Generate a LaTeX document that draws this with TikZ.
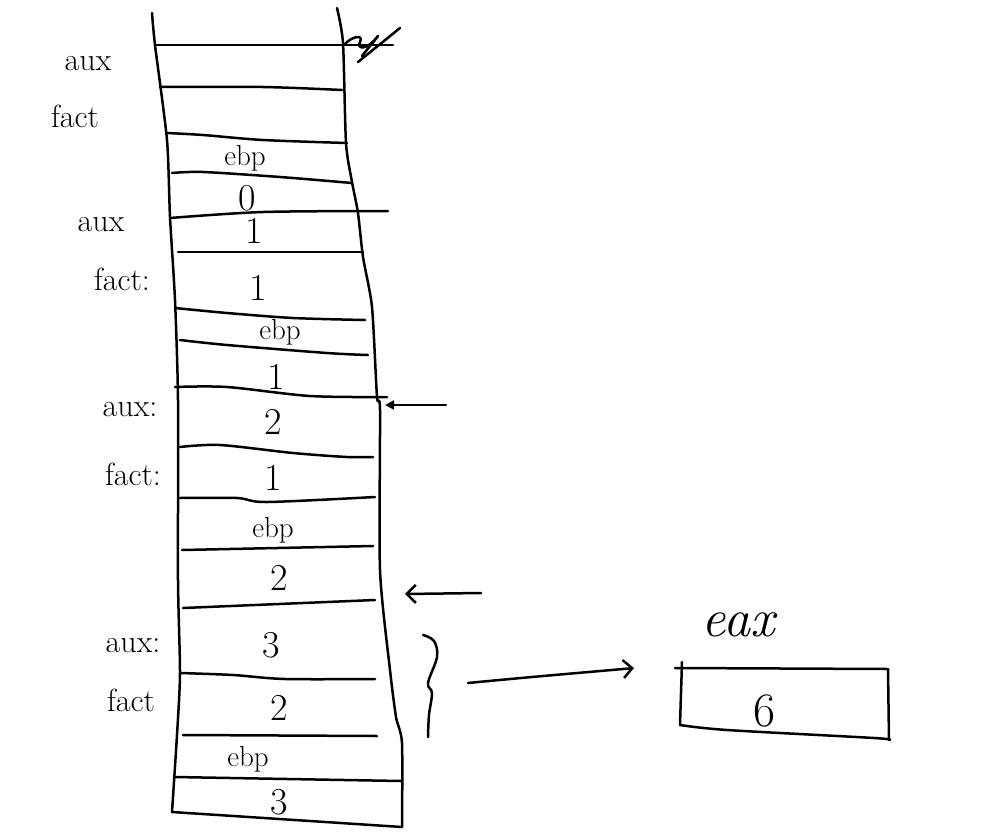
\documentclass[tikz,border=0pt]{standalone}
\usetikzlibrary{arrows.meta}
\begin{document}
\begin{tikzpicture}[x=1pt,y=-1pt,
  ink/.style={line width=2.5pt,line cap=round,line join=round},
  lbl/.style={font=\fontsize{32}{34}\selectfont,inner sep=0pt},
  reg/.style={font=\fontsize{29}{31}\selectfont,inner sep=0pt},
  val/.style={font=\fontsize{38}{40}\selectfont,inner sep=0pt},
  big/.style={font=\fontsize{54}{56}\selectfont\itshape,inner sep=0pt}]
\useasboundingbox[fill=white] (0,0) rectangle (989,836);
% stack outline
\draw[ink] plot[smooth,tension=0.4] coordinates {(152,13) (155,45) (167,140) (170,217) (175,300) (178,400) (178,580) (180,673) (177,735) (172,812)};
\draw[ink] plot[smooth,tension=0.4] coordinates {(337,8) (343,43) (346,143) (352,182) (358,213) (363,257) (372,307) (377,397) (380,410) (380,570) (390,670) (396,717) (402,743) (402,827)};
\draw[ink] (172,812) -- (402,827);
% horizontal cell lines
\draw[ink] (155,45) -- (393,45);
\draw[ink] plot[smooth,tension=0.5] coordinates {(160,87) (263,87) (342,90)};
\draw[ink] plot[smooth,tension=0.5] coordinates {(167,133) (203,135) (263,140) (347,143)};
\draw[ink] plot[smooth,tension=0.5] coordinates {(172,173) (203,172) (280,177) (352,183)};
\draw[ink] plot[smooth,tension=0.5] coordinates {(170,218) (263,212) (388,211)};
\draw[ink] (178,252) -- (363,252);
\draw[ink] plot[smooth,tension=0.5] coordinates {(175,308) (227,313) (293,318) (365,320)};
\draw[ink] plot[smooth,tension=0.5] coordinates {(180,340) (227,345) (327,353) (368,355)};
\draw[ink] plot[smooth,tension=0.5] coordinates {(175,387) (227,387) (310,396) (387,397)};
\draw[ink] plot[smooth,tension=0.5] coordinates {(180,447) (220,445) (293,453) (347,457) (373,457)};
\draw[ink] plot[smooth,tension=0.5] coordinates {(180,498) (237,498) (267,502) (375,497)};
\draw[ink] (182,550) -- (373,546);
\draw[ink] (183,608) -- (375,600);
\draw[ink] plot[smooth,tension=0.5] coordinates {(180,673) (233,675) (285,679) (375,679)};
\draw[ink] (183,735) -- (377,736);
\draw[ink] (174,777) -- (401,781);
% crossed-out scribble at top right
\draw[ink] (344,45) .. controls (352,36) and (364,34) .. (360,42) .. controls (356,50) and (368,50) .. (378,36);
\draw[ink] (378,36) -- (362,56);
\draw[ink] (400,28) -- (358,62);
% left labels
\node[lbl] (l1) at (88,64) {aux};
\node[lbl] (l2) at (75,116) {fact};
\node[lbl] (l3) at (101,225) {aux};
\node[lbl] (l4) at (122,279) {fact:};
\node[lbl] (l5) at (130,410) {aux:};
\node[lbl] (l6) at (133,474) {fact:};
\node[lbl] (l7) at (133,646) {aux:};
\node[lbl] (l8) at (131,700) {fact};
% cell contents
\node[reg] (c1) at (245,158) {ebp};
\node[val] (c2) at (247,198) {0};
\node[val] (c3) at (254,231) {1};
\node[val] (c4) at (258,288) {1};
\node[reg] (c5) at (280,332) {ebp};
\node[val] (c6) at (276,377) {1};
\node[val] (c7) at (273,422) {2};
\node[val] (c8) at (273,478) {1};
\node[reg] (c9) at (273,530) {ebp};
\node[val] (c10) at (279,578) {2};
\node[val] (c11) at (271,645) {3};
\node[val] (c12) at (279,708) {2};
\node[reg] (c13) at (248,759) {ebp};
\node[val] (c14) at (279,802) {3};
% pointers
\coordinate (p1s) at (446,405);
\coordinate (p1e) at (385,405);
\draw[ink,-{Triangle[length=9pt,width=9pt]}] (p1s) -- (p1e);
\coordinate (p2s) at (481,593);
\coordinate (p2e) at (405,594);
\draw[ink,-{Straight Barb[length=9pt,width=18pt]}] (p2s) -- (p2e);
% brace
\draw[ink] plot[smooth,tension=0.6] coordinates {(423,635) (434,641) (437,657) (428,683) (432,693) (429,715) (428,737)};
% eax register
\node[big] (eaxl) at (738,625) {eax};
\draw[ink] (675,668) -- (888,669);
\draw[ink] (682,662) -- (680,725);
\draw[ink] plot[smooth,tension=0.5] coordinates {(680,725) (727,730) (874,738) (889,740)};
\draw[ink] (888,669) -- (889,740);
\node[val,font=\fontsize{48}{50}\selectfont] (six) at (765,711) {6};
\coordinate (bs) at (468,683);
\coordinate (be) at (634,668);
\draw[ink,-{Straight Barb[length=9pt,width=18pt]}] (bs) .. controls (540,676) and (590,672) .. (be);
\end{tikzpicture}
\end{document}
